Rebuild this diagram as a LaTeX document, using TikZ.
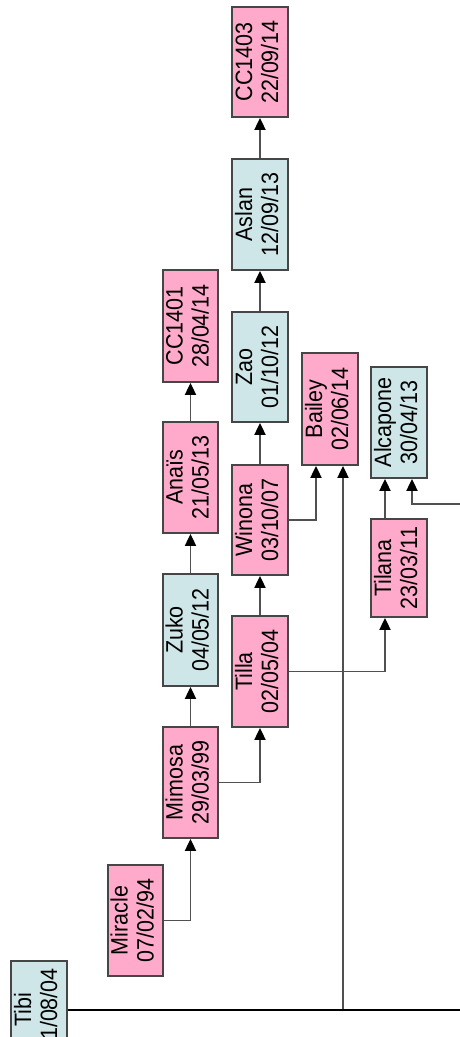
\documentclass[tikz,border=0pt]{standalone}
\usepackage{fontspec}
\setmainfont{Liberation Sans}
\usepackage{graphicx}
\usetikzlibrary{arrows.meta}
\definecolor{pinkfill}{RGB}{255,170,202}
\definecolor{bluefill}{RGB}{206,230,232}
\definecolor{bordergray}{RGB}{70,70,70}
\definecolor{linegray}{RGB}{80,80,80}
\newcommand{\boxlbl}[2]{\rotatebox{90}{\scalebox{1}[1.1]{\fontsize{21.5}{23.6}\selectfont\begin{tabular}{@{}c@{}}#1\\#2\end{tabular}}}}
\tikzset{
  dogbox/.style={draw=bordergray, line width=1.8pt, inner sep=0pt, text=black},
  pinkbox/.style={dogbox, fill=pinkfill},
  bluebox/.style={dogbox, fill=bluefill},
  conn/.style={draw=linegray, line width=1.9pt},
  arr/.style={conn, -{Triangle[width=11pt,length=12pt,color=black]}},
}
\begin{document}
\begin{tikzpicture}[x=1pt,y=-1pt]
\clip (0,0) rectangle (460,1037);
\fill[white] (0,0) rectangle (460,1037);
% boxes
\node[pinkbox, minimum width=56pt, minimum height=110pt] (cc1403) at (260,62) {\boxlbl{CC1403}{22/09/14}};
\node[bluebox, minimum width=56pt, minimum height=111pt] (aslan) at (260,214.5) {\boxlbl{Aslan}{12/09/13}};
\node[bluebox, minimum width=56pt, minimum height=110pt] (zao) at (260,367) {\boxlbl{Zao}{01/10/12}};
\node[pinkbox, minimum width=55pt, minimum height=112pt] (cc1401) at (190.5,326) {\boxlbl{CC1401}{28/04/14}};
\node[pinkbox, minimum width=55pt, minimum height=111pt] (anais) at (190.5,477.5) {\boxlbl{Anaïs}{21/05/13}};
\node[bluebox, minimum width=55pt, minimum height=112pt] (zuko) at (190.5,630) {\boxlbl{Zuko}{04/05/12}};
\node[pinkbox, minimum width=55pt, minimum height=111pt] (mimosa) at (190.5,782.5) {\boxlbl{Mimosa}{29/03/99}};
\node[pinkbox, minimum width=55pt, minimum height=111pt] (miracle) at (135.5,920.5) {\boxlbl{Miracle}{07/02/94}};
\node[pinkbox, minimum width=56pt, minimum height=110pt] (winona) at (260,520) {\boxlbl{Winona}{03/10/07}};
\node[pinkbox, minimum width=56pt, minimum height=111pt] (tilla) at (260,671.5) {\boxlbl{Tilla}{02/05/04}};
\node[pinkbox, minimum width=56pt, minimum height=112pt] (bailey) at (330,409) {\boxlbl{Bailey}{02/06/14}};
\node[bluebox, minimum width=56pt, minimum height=111pt] (alcapone) at (399,422.5) {\boxlbl{Alcapone}{30/04/13}};
\node[pinkbox, minimum width=56pt, minimum height=98pt] (tilana) at (399,568) {\boxlbl{Tilana}{23/03/11}};
\node[bluebox, minimum width=56pt, minimum height=98pt] (tibi) at (39,1010) {\boxlbl{Tibi}{01/08/04}};
% free ends
\coordinate (tibiend) at (460,1010);
\coordinate (tibijoin) at (343,1010);
\coordinate (alcend) at (460,504);
% connectors
\draw[arr] (aslan.north) -- (cc1403.south);
\draw[arr] (zao.north) -- (aslan.south);
\draw[arr] (winona.north) -- (zao.south);
\draw[arr] (tilla.north) -- (winona.south);
\draw[arr] (anais.north) -- (cc1401.south);
\draw[arr] (zuko.north) -- (anais.south);
\draw[arr] (mimosa.north) -- (zuko.south);
\draw[arr] (miracle.east) -| (mimosa.south);
\draw[arr] (mimosa.east) -| (tilla.south);
\draw[arr] (tilla.east) -| ([xshift=-14pt]tilana.south);
\draw[arr] (winona.east) -| ([xshift=-14pt]bailey.south);
\draw[arr] ([xshift=-14pt]tilana.north) -- ([xshift=-14pt]alcapone.south);
\draw[arr] (alcend) -| ([xshift=13pt]alcapone.south);
\draw[arr] (tibijoin) -- ([xshift=13pt]bailey.south);
\draw[line width=1.8pt, black] (tibi.east) -- (tibiend);
\end{tikzpicture}
\end{document}
